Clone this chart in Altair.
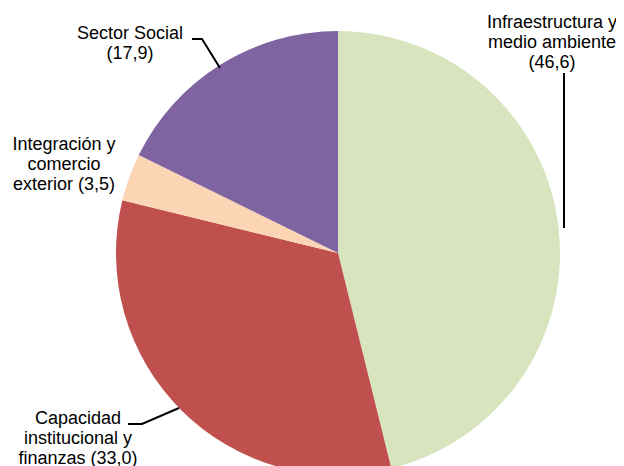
import altair as alt
import pandas as pd

# ---- data ----
categories = [
    "Infraestructura y medio ambiente",
    "Capacidad institucional y finanzas",
    "Integración y comercio exterior",
    "Sector Social",
]
values = [46.6, 33.0, 3.5, 17.9]
colors = ["#d7e4bd", "#c0504d", "#fcd5b5", "#8064a2"]

# label text split into lines (value appended either on own line or on last line)
label_lines = [
    ["Infraestructura y", "medio ambiente"],
    ["Capacidad", "institucional y", "finanzas"],
    ["Integración y", "comercio", "exterior"],
    ["Sector Social"],
]
value_on_new_line = [True, False, False, True]

# ---- layout (plot coordinates, px) ----
W, H = 608, 458
CX, CY, R = 330, 245, 222
label_anchor = [(544, 20), (70, 416), (56, 142), (122, 31)]
LINE_H = 20
leaders = [
    [(556, 65), (556, 220)],
    [(120, 416), (134, 416), (171, 400)],
    [],
    [(184, 31), (194, 31), (212, 60)],
]

def fmt(v):
    return "(" + f"{v:.1f}".replace(".", ",") + ")"

pie_df = pd.DataFrame({
    "categoria": categories,
    "valor": values,
    "orden": list(range(len(categories))),
})

rows = []
for i, lines in enumerate(label_lines):
    lines = list(lines)
    if value_on_new_line[i]:
        lines.append(fmt(values[i]))
    else:
        lines[-1] = lines[-1] + " " + fmt(values[i])
    ax, ay = label_anchor[i]
    for j, t in enumerate(lines):
        rows.append({"t": t, "x": ax, "y": ay + j * LINE_H})
lab_df = pd.DataFrame(rows)

lrows = []
for i, pts in enumerate(leaders):
    for k, (x, y) in enumerate(pts):
        lrows.append({"seg": i, "k": k, "x": x, "y": y})
lead_df = pd.DataFrame(lrows)

xs = alt.Scale(domain=[0, W], range=[0, W], nice=False, zero=False)
ys = alt.Scale(domain=[0, H], range=[0, H], nice=False, zero=False)

pie = alt.Chart(pie_df).mark_arc(radius=R, stroke=None).encode(
    theta=alt.Theta("valor:Q", stack=True),
    order=alt.Order("orden:Q"),
    color=alt.Color("categoria:N", scale=alt.Scale(domain=categories, range=colors), legend=None),
    x=alt.value(CX),
    y=alt.value(CY),
)

lead = alt.Chart(lead_df).mark_line(color="black", strokeWidth=2).encode(
    x=alt.X("x:Q", scale=xs, axis=None),
    y=alt.Y("y:Q", scale=ys, axis=None),
    detail="seg:N",
    order="k:Q",
)

text = alt.Chart(lab_df).mark_text(
    font="Liberation Sans", fontSize=18, align="center", baseline="alphabetic", color="black"
).encode(
    x=alt.X("x:Q", scale=xs, axis=None),
    y=alt.Y("y:Q", scale=ys, axis=None),
    text="t:N",
)

chart = alt.layer(pie, lead, text).properties(
    width=W, height=H, autosize=alt.AutoSizeParams(type="none"), padding=0
).configure_view(stroke=None)

chart.save("out.html", embed_options={"renderer": "svg", "actions": False})
